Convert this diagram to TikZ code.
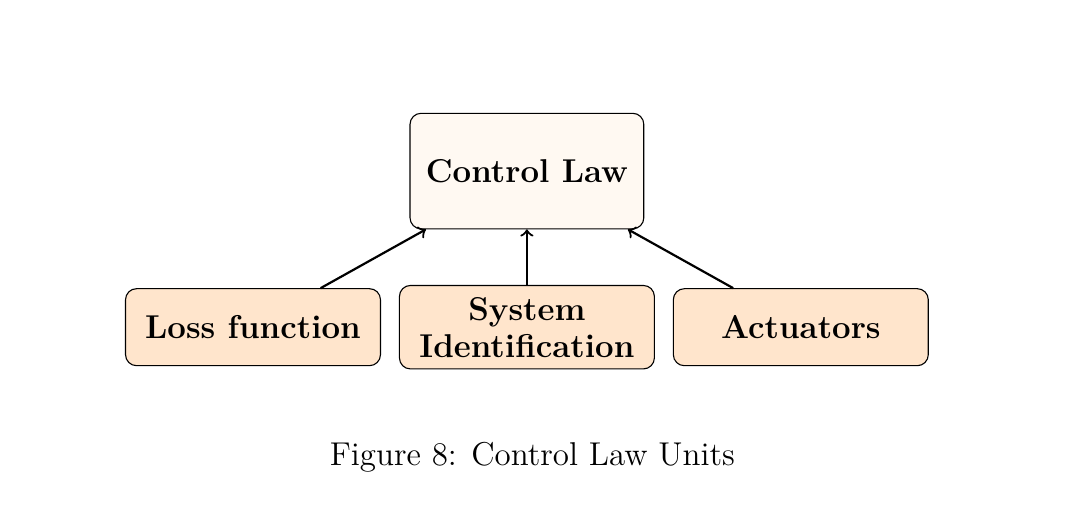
\documentclass[tikz,border=0pt]{standalone}
\usepackage{amsmath}
\usepackage{tikz}
\usetikzlibrary{arrows,positioning}
\usepackage{xcolor}

\begin{document}
\begin{tikzpicture}[
    node distance=20.2pt and 6.5pt,
    law/.style={draw, rounded corners=4pt, fill=orange!5, minimum width=85pt, minimum height=42pt, align=center, font=\fontsize{12}{14.5}\selectfont\bfseries},
    unit/.style={draw, rounded corners=4pt, fill=orange!20, minimum width=92.7pt, minimum height=28pt, align=center, font=\fontsize{12}{13.5}\selectfont\bfseries},
    capt/.style={anchor=base, font=\fontsize{12}{14.5}\selectfont},
    arr/.style={->, thick}
]
\useasboundingbox (-191.6pt,62.2pt) rectangle (203.3pt,-130.5pt);
% --- control law ---
\node[law] (cl) {Control Law};

% --- units ---
\node[unit, inner ysep=4.2pt, below=of cl] (sid) {System\\Identification};
\node[unit, left=of sid] (loss) {Loss function};
\node[unit, right=of sid] (act) {Actuators};

\draw[arr] (loss.30)--(cl.210);
\draw[arr] (sid)--(cl);
\draw[arr] (act.150)--(cl.330);

% --- caption ---
\node[capt] (cap) at ([xshift=2pt,yshift=-34.8pt]sid.south) {Figure 8: Control Law Units};
\end{tikzpicture}
\end{document}
